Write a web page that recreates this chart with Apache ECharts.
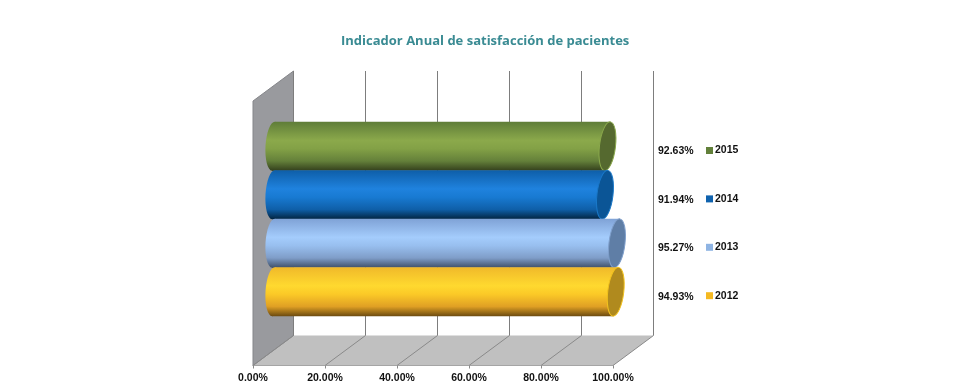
<!DOCTYPE html>
<html><head><meta charset="utf-8">
<style>html,body{margin:0;padding:0;background:#fff}#c{width:976px;height:385px}</style>
<script src="https://cdn.jsdelivr.net/npm/echarts@6/dist/echarts.min.js"></script>
</head><body><div id="c"></div>
<script>
var titleText = 'Indicador Anual de satisfacción de pacientes';
var years = ['2012', '2013', '2014', '2015'];
var satisfaction = [94.93, 95.27, 91.94, 92.63];
var axisTicks = [0, 20, 40, 60, 80, 100];
var legendOrder = ['2015', '2014', '2013', '2012'];
var legendColors = { '2012': '#f5b921', '2013': '#8fb4e3', '2014': '#0f62ae', '2015': '#62803a' };
var capColors = { '2012': '#b08a1e', '2013': '#5f7ea6', '2014': '#0b5596', '2015': '#55692f' };
var edgeColors = { '2012': '#f2c21e', '2013': '#7f9fcb', '2014': '#1a78c8', '2015': '#8aa84c' };
var ramps = {
  '2012': ['#f0b92a', '#ffd92f', '#fbc927', '#e0a024', '#6b4a10'],
  '2013': ['#7fa2d6', '#a4ccfc', '#98bfef', '#7f9dc8', '#3f5068'],
  '2014': ['#0e5ea8', '#1f82de', '#187ad2', '#0f5fa8', '#02233f'],
  '2015': ['#5f7d38', '#8ba94b', '#83a146', '#64803a', '#333f1c']
};

var DEPTH_X = 40.5, DEPTH_Y = 30, FRONT_DROP = 49.5;
var WALL_TOP = 71, SHIFT_X = 20;

function frameItem(params, api) {
  var t = api.value(0);
  var p = api.coord([t, years[0]]);
  var p0 = api.coord([0, years[0]]);
  var p100 = api.coord([100, years[0]]);
  var cs = params.coordSys;
  var fy = cs.y + cs.height + FRONT_DROP;
  var by = fy - DEPTH_Y;
  var kids = [];
  if (t === 0) {
    kids.push({ type: 'polygon', shape: { points: [[p0[0], fy], [p0[0] + DEPTH_X, by], [p100[0] + DEPTH_X, by], [p100[0], fy]] },
      style: { fill: '#c0c0c0' } });
    kids.push({ type: 'polygon', shape: { points: [[p0[0], WALL_TOP + DEPTH_Y], [p0[0] + DEPTH_X, WALL_TOP], [p0[0] + DEPTH_X, by], [p0[0], fy]] },
      style: { fill: '#999a9e', stroke: '#85868a', lineWidth: 1 } });
  }
  kids.push({ type: 'line', shape: { x1: p[0], y1: fy, x2: p[0] + DEPTH_X, y2: by }, style: { stroke: '#8a8a8a', lineWidth: 1 } });
  kids.push({ type: 'line', shape: { x1: p[0] + DEPTH_X, y1: by, x2: p[0] + DEPTH_X, y2: WALL_TOP }, style: { stroke: '#7d7d7d', lineWidth: 1 } });
  return { type: 'group', children: kids };
}

function cylinderItem(year) {
  return function (params, api) {
    var v = api.value(0);
    var c = api.coord([v, year]);
    var c0 = api.coord([0, year]);
    var h = api.size([0, 1])[1];
    var rx = 8, ry = h / 2 + 0.3, lean = 0.12, tilt = ry * lean;
    var xr = c[0] + SHIFT_X + 1, xl = c0[0] + SHIFT_X + 0.5, y = c[1];
    var stops = ramps[year];
    var grad = { type: 'linear', x: 0, y: 0, x2: 0, y2: 1, colorStops: [
      { offset: 0, color: stops[0] }, { offset: 0.38, color: stops[1] }, { offset: 0.55, color: stops[2] },
      { offset: 0.8, color: stops[3] }, { offset: 1, color: stops[4] }] };
    return { type: 'group', children: [
      { type: 'ellipse', shape: { cx: xl, cy: y, rx: rx, ry: ry }, rotation: -lean * 0.5, originX: xl, originY: y, style: { fill: grad } },
      { type: 'polygon', shape: { points: [[xl + tilt * 0.5, y - ry], [xr + tilt, y - ry], [xr - tilt, y + ry], [xl - tilt * 0.5, y + ry]] }, style: { fill: grad } },
      { type: 'ellipse', shape: { cx: xr, cy: y, rx: rx, ry: ry }, rotation: -lean, originX: xr, originY: y,
        style: { fill: capColors[year], stroke: edgeColors[year], lineWidth: 1 } },
      { type: 'text', x: 658, y: y + 5, style: { text: v.toFixed(2) + '%', fill: '#111', font: 'bold 10.5px "Liberation Sans", Arial, sans-serif', textAlign: 'left', textVerticalAlign: 'middle' } }
    ] };
  };
}

var series = [{
  type: 'custom', name: 'frame', silent: true, z: 1, renderItem: frameItem,
  data: axisTicks.map(function (t) { return [t, years[0]]; }), encode: { x: 0, y: 1 }
}];
years.forEach(function (year, i) {
  series.push({
    type: 'custom', name: year, z: 2 + (3 - i), renderItem: cylinderItem(year),
    itemStyle: { color: legendColors[year] },
    data: [[satisfaction[i], year]], encode: { x: 0, y: 1 }
  });
});

var chart = echarts.init(document.getElementById('c'), null, { renderer: 'canvas' });
chart.setOption({
  animation: false,
  backgroundColor: '#fff',
  title: { text: titleText, left: 336, top: 30,
    textStyle: { fontFamily: '"Open Sans", sans-serif', fontWeight: 700, fontSize: 13, color: '#3a8b93' } },
  legend: { data: legendOrder, orient: 'vertical', left: 701, top: 140, itemWidth: 7, itemHeight: 7, itemGap: 37.4,
    icon: 'rect', textStyle: { color: '#111', fontFamily: '"Liberation Sans", Arial, sans-serif', fontWeight: 'bold', fontSize: 10.5, padding: [0, 0, 0, -3] } },
  grid: { left: 253, width: 360, top: 122, height: 194, containLabel: false },
  xAxis: { type: 'value', min: 0, max: 100, interval: 20, position: 'bottom', offset: 49.5,
    axisLine: { show: true, onZero: false, lineStyle: { color: '#8a8a8a' } },
    axisTick: { show: true, length: 3, lineStyle: { color: '#8a8a8a' } },
    splitLine: { show: false },
    axisLabel: { margin: 7, color: '#111', fontFamily: '"Liberation Sans", Arial, sans-serif', fontWeight: 'bold', fontSize: 10.5,
      formatter: function (v) { return v.toFixed(2) + '%'; } } },
  yAxis: { type: 'category', data: years, show: false },
  series: series
});
</script></body></html>
